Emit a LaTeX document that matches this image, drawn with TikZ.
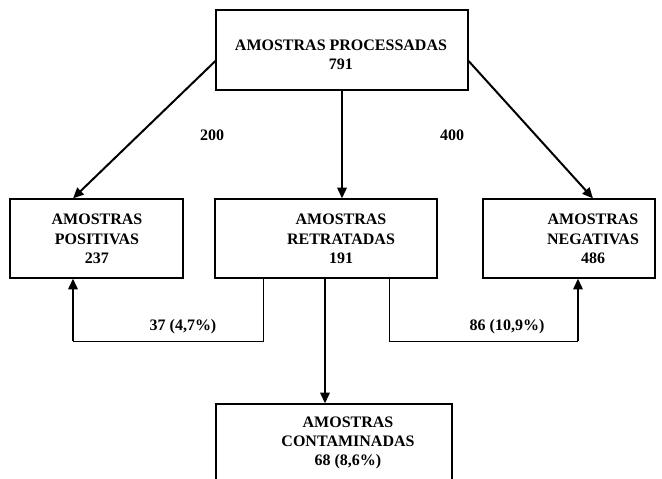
\documentclass[tikz,border=0pt]{standalone}
\usepackage{fontspec}
\setmainfont{Liberation Serif}
\usetikzlibrary{arrows.meta,positioning}

\begin{document}
\begin{tikzpicture}[
  x=0.75pt, y=-0.75pt,
  box/.style={draw, line width=0.9pt, inner sep=0pt},
  txt/.style={align=center, inner sep=0pt, font=\fontsize{12}{14.5}\selectfont\bfseries},
  num/.style={inner sep=0pt, font=\fontsize{12}{14}\selectfont\bfseries},
  arr/.style={-{Triangle[length=8pt, width=7pt]}, line width=1.5pt},
  thin/.style={line width=0.7pt},
]
\clip (0,0) rectangle (662,479);
\useasboundingbox (0,0) rectangle (662,479);

% Boxes
\node[box, minimum width=189pt, minimum height=60pt] (proc) at (342, 50) {};
\node[box, minimum width=129.75pt, minimum height=59.25pt] (pos) at (96.5, 238.5) {};
\node[box, minimum width=166.5pt, minimum height=59.25pt] (ret) at (326, 238.5) {};
\node[box, minimum width=129pt, minimum height=59.25pt] (neg) at (569, 238.5) {};
\node[box, minimum width=177pt, minimum height=90pt] (cont) at (334, 464) {};

% Box texts
\node[txt] (procT) at (341, 55) {AMOSTRAS PROCESSADAS\\791};
\node[txt] (posT) at (97, 239) {AMOSTRAS\\POSITIVAS\\237};
\node[txt] (retT) at (341, 239) {AMOSTRAS\\RETRATADAS\\191};
\node[txt] (negT) at (593, 239) {AMOSTRAS\\NEGATIVAS\\486};
\node[txt] (contT) at (348, 443) {AMOSTRAS\\CONTAMINADAS\\68 (8,6\%)};

% Arrows from processed samples
\draw[arr] (proc.west |- 0,61) -- (pos.north -| 73,0);
\draw[arr] (proc.south -| 342,0) -- (ret.north -| 342,0);
\draw[arr] (proc.east |- 0,61) -- (neg.north -| 593,0);
\node[num] (n200) at (212, 135) {200};
\node[num] (n400) at (452, 135) {400};

% Retreated -> positives / negatives
\coordinate (lcorner) at (73, 341);
\coordinate (rcorner) at (578, 341);
\draw[thin] (ret.south -| 263,0) |- (lcorner);
\draw[arr] (lcorner) -- (pos.south -| lcorner);
\draw[thin] (ret.south -| 389,0) |- (rcorner);
\draw[arr] (rcorner) -- (neg.south -| rcorner);
\node[num] (n37) at (183, 327) {37 (4,7\%)};
\node[num] (n86) at (507, 327) {86 (10,9\%)};

% Retreated -> contaminated
\draw[arr] (ret.south -| 325,0) -- (cont.north -| 325,0);

\end{tikzpicture}
\end{document}
